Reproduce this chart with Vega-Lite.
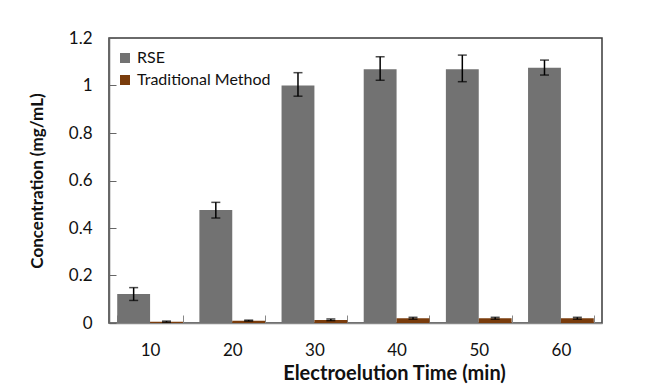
{
  "$schema": "https://vega.github.io/schema/vega-lite/v6.json",
  "width": 493,
  "height": 285,
  "autosize": {"type": "none"},
  "padding": {"left": 109, "top": 38, "right": 56, "bottom": 67},
  "background": "white",
  "config": {
    "view": {"stroke": "#3a3a3a", "strokeWidth": 1.5},
    "font": "Lato"
  },
  "data": {
    "values": [
      {"time": "10", "method": "RSE", "value": 0.122, "lo": 0.095, "hi": 0.149},
      {"time": "10", "method": "Traditional Method", "value": 0.005, "lo": 0.003, "hi": 0.008},
      {"time": "20", "method": "RSE", "value": 0.476, "lo": 0.442, "hi": 0.508},
      {"time": "20", "method": "Traditional Method", "value": 0.01, "lo": 0.008, "hi": 0.012},
      {"time": "30", "method": "RSE", "value": 1.0, "lo": 0.955, "hi": 1.054},
      {"time": "30", "method": "Traditional Method", "value": 0.013, "lo": 0.01, "hi": 0.017},
      {"time": "40", "method": "RSE", "value": 1.068, "lo": 1.022, "hi": 1.121},
      {"time": "40", "method": "Traditional Method", "value": 0.02, "lo": 0.016, "hi": 0.024},
      {"time": "50", "method": "RSE", "value": 1.068, "lo": 1.016, "hi": 1.128},
      {"time": "50", "method": "Traditional Method", "value": 0.02, "lo": 0.016, "hi": 0.024},
      {"time": "60", "method": "RSE", "value": 1.075, "lo": 1.044, "hi": 1.107},
      {"time": "60", "method": "Traditional Method", "value": 0.02, "lo": 0.016, "hi": 0.024}
    ]
  },
  "encoding": {
    "x": {
      "field": "time",
      "type": "ordinal",
      "scale": {"paddingInner": 0.2, "paddingOuter": 0.1},
      "axis": {
        "title": "Electroelution Time (min)",
        "labelAngle": 0,
        "labelFont": "Lato",
        "labelFontSize": 17,
        "labelColor": "#111",
        "labelPadding": 27,
        "tickBand": "extent",
        "tickSize": -8,
        "tickColor": "#888",
        "domainColor": "#888",
        "domainWidth": 1.5,
        "titleFont": "Lato",
        "titleFontSize": 20,
        "titleFontWeight": "bold",
        "titleColor": "#111",
        "titlePadding": 5,
        "titleX": 285
      }
    },
    "xOffset": {
      "field": "method",
      "type": "nominal",
      "sort": ["RSE", "Traditional Method"],
      "scale": {"paddingInner": 0, "paddingOuter": 0}
    }
  },
  "layer": [
    {
      "mark": {"type": "bar"},
      "encoding": {
        "y": {
          "field": "value",
          "type": "quantitative",
          "scale": {"domain": [0, 1.2], "nice": false},
          "axis": {
            "title": "Concentration (mg/mL)",
            "values": [0, 0.2, 0.4, 0.6, 0.8, 1, 1.2],
            "format": "~g",
            "grid": false,
            "labelFont": "Lato",
            "labelFontSize": 17,
            "labelColor": "#111",
            "labelPadding": 24,
            "tickSize": -7,
            "tickColor": "#666",
            "domainColor": "#666",
            "domainWidth": 1.5,
            "titleFont": "Lato",
            "titleFontSize": 17,
            "titleFontWeight": "bold",
            "titleColor": "#111",
            "titlePadding": 22
          }
        },
        "color": {
          "field": "method",
          "type": "nominal",
          "scale": {"domain": ["RSE", "Traditional Method"], "range": ["#727272", "#7a3c0c"]},
          "legend": {
            "title": null,
            "orient": "none",
            "legendX": 8,
            "legendY": 12,
            "symbolType": "square",
            "symbolSize": 100,
            "symbolStrokeWidth": 0,
            "labelFont": "Lato",
            "labelFontSize": 16,
            "labelColor": "#111",
            "rowPadding": 6
          }
        }
      }
    },
    {
      "mark": {"type": "rule", "color": "black", "strokeWidth": 1.5},
      "encoding": {
        "y": {"field": "lo", "type": "quantitative"},
        "y2": {"field": "hi"}
      }
    },
    {
      "mark": {"type": "tick", "color": "black", "thickness": 1.5, "size": 9},
      "encoding": {"y": {"field": "lo", "type": "quantitative"}}
    },
    {
      "mark": {"type": "tick", "color": "black", "thickness": 1.5, "size": 9},
      "encoding": {"y": {"field": "hi", "type": "quantitative"}}
    }
  ]
}
